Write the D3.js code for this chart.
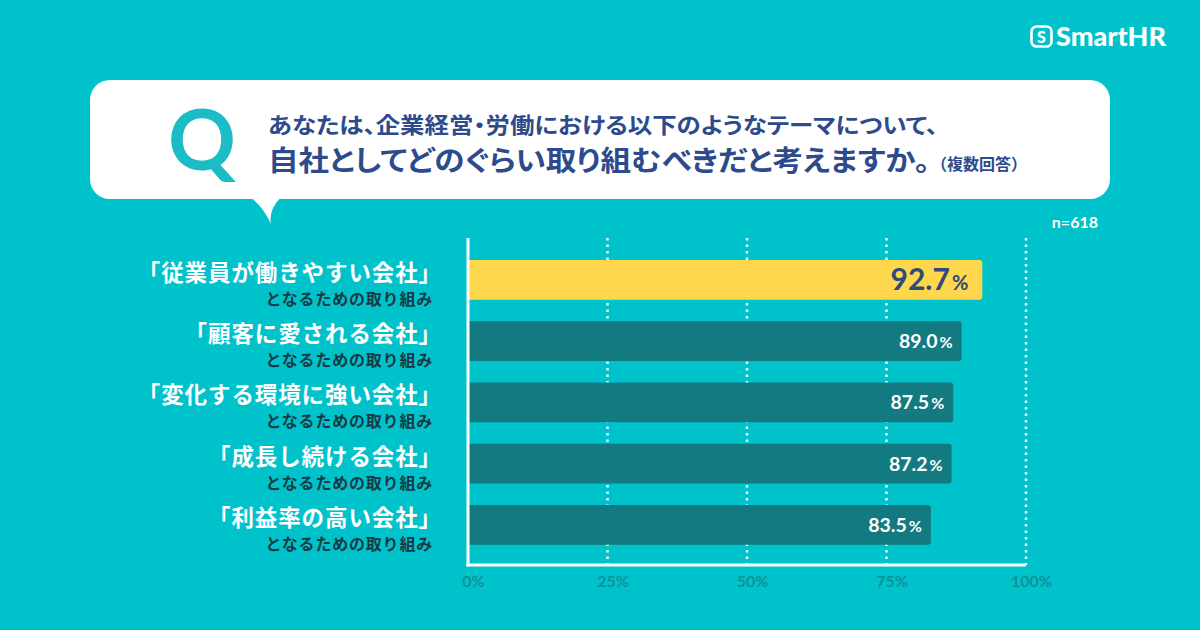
<!DOCTYPE html>
<html>
<head>
<meta charset="utf-8">
<script src="https://cdn.jsdelivr.net/npm/d3@7"></script>
<style>
  html, body { margin: 0; padding: 0; background: #00c2cb; }
  svg { display: block; }
</style>
</head>
<body>
<svg id="chart" width="1200" height="630"></svg>
<script>
// data
var categories = ["「従業員が働きやすい会社」", "「顧客に愛される会社」", "「変化する環境に強い会社」", "「成長し続ける会社」", "「利益率の高い会社」"];
var subLabels = ["となるための取り組み", "となるための取り組み", "となるための取り組み", "となるための取り組み", "となるための取り組み"];
var values = [92.7, 89.0, 87.5, 87.2, 83.5];
var tickValues = [0, 25, 50, 75, 100];
var questionLine1 = "あなたは、企業経営・労働における以下のようなテーマについて、";
var questionLine2 = "自社としてどのぐらい取り組むべきだと考えますか。";
var questionNote = "（複数回答）";
var sampleSize = "n=618";

var JP = "'Noto Sans CJK JP', 'Noto Sans', sans-serif";
var NUM = "Lato, 'Noto Sans', sans-serif";

var svg = d3.select("#chart");

// background
svg.append("rect").attr("width", 1200).attr("height", 630).attr("fill", "#00c2cb");

// logo
var logo = svg.append("g").attr("transform", "translate(1030,25)");
logo.append("rect").attr("x", 1.5).attr("y", 1.5).attr("width", 20).attr("height", 20).attr("rx", 5)
    .attr("fill", "none").attr("stroke", "#fff").attr("stroke-width", 2.6);
logo.append("text").attr("x", 11.5).attr("y", 18).attr("text-anchor", "middle")
    .attr("font-family", NUM).attr("font-weight", 900).attr("font-size", 16).attr("fill", "#fff").text("S");
logo.append("text").attr("x", 26).attr("y", 21)
    .attr("font-family", NUM).attr("font-weight", 900).attr("font-size", 27).attr("fill", "#fff").text("SmartHR");

// speech bubble
svg.append("rect").attr("x", 90).attr("y", 80).attr("width", 1020).attr("height", 119).attr("rx", 20)
    .attr("fill", "#fff");
svg.append("path").attr("d", "M248,196 Q262,204 271,224 Q268,210 282,196 Z").attr("fill", "#fff");

svg.append("text").attr("x", 202).attr("y", 170).attr("text-anchor", "middle")
    .attr("font-family", NUM).attr("font-weight", 700).attr("font-size", 84).attr("fill", "#1cbcc6").text("Q");

svg.append("text").attr("x", 268).attr("y", 133)
    .attr("font-family", JP).attr("font-weight", 700).attr("font-size", 22).attr("fill", "#2d4b8c")
    .style("font-feature-settings", "'palt'")
    .attr("textLength", 670).attr("lengthAdjust", "spacingAndGlyphs")
    .text(questionLine1);
svg.append("text").attr("x", 268).attr("y", 171)
    .attr("font-family", JP).attr("font-weight", 700).attr("font-size", 28).attr("fill", "#2d4b8c")
    .style("font-feature-settings", "'palt'")
    .attr("textLength", 662).attr("lengthAdjust", "spacingAndGlyphs").text(questionLine2);
svg.append("text").attr("x", 931).attr("y", 170)
    .attr("font-family", JP).attr("font-weight", 700).attr("font-size", 16).attr("fill", "#2d4b8c")
    .attr("textLength", 96).attr("lengthAdjust", "spacing").text(questionNote);

svg.append("text").attr("x", 1098).attr("y", 228).attr("text-anchor", "end")
    .attr("font-family", NUM).attr("font-weight", 700).attr("font-size", 16).attr("fill", "#fff").text(sampleSize);

// scales
var x = d3.scaleLinear().domain([0, 100]).range([468, 1026]);
var y = d3.scaleBand().domain(categories).range([249.3, 555.5]).paddingInner(0.35).paddingOuter(0.175);
var axisTop = 238, axisBottom = 565;

// grid (dotted)
svg.append("g").selectAll("line").data(tickValues.filter(function (d) { return d > 0; }))
    .enter().append("line")
    .attr("x1", function (d) { return x(d); }).attr("x2", function (d) { return x(d); })
    .attr("y1", axisTop).attr("y2", axisBottom)
    .attr("stroke", "#e8fbfc").attr("stroke-width", 2.5).attr("stroke-dasharray", "2.5,4");

// bars
var bars = svg.append("g").selectAll("g").data(categories).enter().append("g");
bars.append("path")
    .attr("d", function (d, i) {
        var x0 = x(0), x1 = x(values[i]) - 3, y0 = y(d), h = y.bandwidth(), r = 3;
        return "M" + x0 + "," + y0 + "H" + (x1 - r) + "Q" + x1 + "," + y0 + " " + x1 + "," + (y0 + r) +
            "V" + (y0 + h - r) + "Q" + x1 + "," + (y0 + h) + " " + (x1 - r) + "," + (y0 + h) + "H" + x0 + "Z";
    })
    .attr("fill", function (d, i) { return i === 0 ? "#ffd74c" : "#127a80"; });

// value labels
bars.append("text")
    .attr("x", function (d, i) { return x(values[i]) - (i === 0 ? 17 : 12); })
    .attr("y", function (d, i) { return y(d) + y.bandwidth() / 2 + (i === 0 ? 10 : 7); })
    .attr("text-anchor", "end")
    .attr("font-family", NUM).attr("font-weight", 700)
    .attr("fill", function (d, i) { return i === 0 ? "#2f4a7c" : "#fff"; })
    .each(function (d, i) {
        var t = d3.select(this);
        t.append("tspan").attr("font-size", i === 0 ? 30 : 19.5).text(values[i].toFixed(1));
        t.append("tspan").attr("font-size", i === 0 ? 20 : 16).attr("dx", 2).text("%");
    });

// category labels
bars.append("text")
    .attr("x", 442)
    .attr("y", function (d) { return y(d) + y.bandwidth() / 2 + 1; })
    .attr("text-anchor", "end")
    .attr("font-family", JP).attr("font-weight", 700).attr("font-size", 22.5).attr("fill", "#fff")
    .attr("letter-spacing", 0.9)
    .text(function (d) { return d; });
bars.append("text")
    .attr("x", 433)
    .attr("y", function (d) { return y(d) + y.bandwidth() / 2 + 25; })
    .attr("text-anchor", "end")
    .attr("font-family", JP).attr("font-weight", 700).attr("font-size", 16).attr("fill", "#173b44")
    .attr("letter-spacing", 0.8)
    .text(function (d, i) { return subLabels[i]; });

// axis lines
svg.append("line").attr("x1", x(0)).attr("x2", x(0)).attr("y1", axisTop).attr("y2", axisBottom + 1.5)
    .attr("stroke", "#fff").attr("stroke-width", 3);
svg.append("line").attr("x1", x(0) - 1.5).attr("x2", x(100)).attr("y1", axisBottom).attr("y2", axisBottom)
    .attr("stroke", "#fff").attr("stroke-width", 3);

// tick labels
var xAxis = d3.axisBottom(x).tickValues(tickValues).tickSize(0).tickPadding(0)
    .tickFormat(function (d) { return d + "%"; });
var ax = svg.append("g").attr("transform", "translate(5," + (axisBottom + 11) + ")").call(xAxis);
ax.select(".domain").remove();
ax.selectAll("text").attr("font-family", NUM).attr("font-weight", 700).attr("font-size", 16)
    .attr("fill", "#0c929b").attr("dy", "0.71em");
</script>
</body>
</html>
